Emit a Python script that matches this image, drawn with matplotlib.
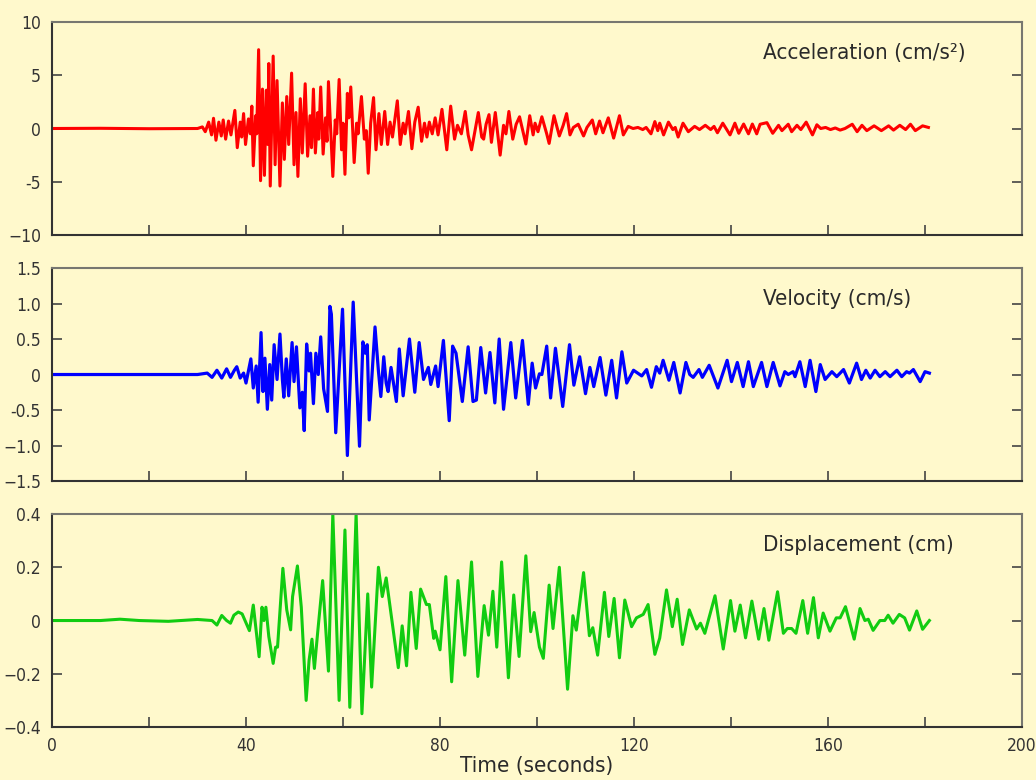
import matplotlib
matplotlib.use("Agg")
import matplotlib.pyplot as plt
import matplotlib.transforms as mtransforms

plt.rcParams['font.family'] = ['DejaVu Sans']
plt.rcParams['font.stretch'] = 'condensed'

bg = '#FFF9CC'

# acceleration (cm/s^2), peaks and troughs
acc_t = [0, 10, 20, 30, 31, 31.6, 32.3, 32.9, 33.3, 33.8, 34.4, 34.9, 35.3, 35.8, 36.4, 36.9,
         37.7, 38.2, 38.8, 39.1, 39.5, 39.9, 40.5, 40.9, 41.2, 41.5, 42.0, 42.2, 42.6, 43.0,
         43.4, 43.8, 44.2, 44.5, 44.7, 45.0, 45.4, 45.6, 46.0, 46.4, 47.0, 47.5, 47.9, 48.4,
         48.8, 49.4, 49.9, 50.3, 50.7, 51.2, 51.6, 52.2, 52.7, 53.2, 53.5, 53.9, 54.3, 54.8,
         55.0, 55.4, 55.9, 56.4, 56.7, 57.0, 57.9, 58.4, 58.7, 59.2, 59.7, 60.0, 60.4, 60.9,
         61.2, 61.6, 62.3, 62.8, 63.1, 63.8, 64.4, 64.8, 65.2, 65.7, 66.3, 66.8, 67.4, 67.9,
         68.6, 69.2, 69.7, 70.2, 71.2, 71.8, 72.4, 72.8, 73.5, 74.2, 74.8, 75.5, 76.2, 76.8,
         77.3, 77.8, 78.4, 79.0, 79.6, 80.4, 81.4, 82.2, 83.0, 83.6, 84.4, 85.2, 85.8, 86.5,
         87.9, 88.6, 89.0, 89.5, 90.1, 90.6, 91.4, 92.4, 93.1, 93.6, 94.2, 95.0, 95.7, 96.4,
         97.7, 98.5, 99.2, 99.6, 100.2, 101.0, 102.0, 102.5, 103.5, 104.6, 105.4, 106.1, 106.8,
         107.5, 108.5, 109.6, 110.3, 111.4, 112.1, 112.9, 113.6, 114.7, 115.8, 117.0, 117.8,
         118.8, 119.8, 120.8, 121.8, 122.5, 123.5, 124.3, 124.9, 125.3, 126.1, 127.1, 128.0,
         128.5, 129.1, 130.1, 131.2, 132.5, 133.5, 134.7, 135.8, 136.5, 137.2, 138.3, 139.8,
         140.8, 141.6, 142.6, 143.6, 144.4, 145.3, 146.0, 147.4, 148.6, 149.8, 150.5, 151.8,
         152.5, 153.6, 154.4, 155.5, 156.8, 157.7, 158.5, 159.5, 160.5, 161.5, 162.5, 163.5,
         165.0, 166.0, 167.0, 168.0, 169.5, 171.0, 172.5, 173.5, 174.8, 176.0, 177.0, 178.0,
         179.5, 180.7]
acc_v = [0, 0.02, -0.02, 0, 0.15, -0.3, 0.6, -0.6, 0.96, -1.1, 0.6, -0.7, 0.8, -1.0, 0.7, -0.6,
         1.7, -1.8, 0.6, -0.8, 1.4, -1.5, 0.9, -0.5, 2.1, -3.5, 1.2, -0.5, 7.4, -4.9,
         3.7, -4.4, 3.6, -1.5, 6.1, -5.4, 3.0, 6.8, -3.4, 4.5, -5.4, 2.4, -2.9, 3.0,
         -1.5, 5.2, -3.4, 1.5, -4.5, 2.8, -2.3, 4.2, -2.6, 1.2, -1.8, 3.7, -2.3, 1.5,
         -1.0, 3.9, -2.4, 1.0, -1.2, 4.4, -4.5, 0.8, -0.5, 4.6, -2.0, 0.5, -4.3, 3.3,
         1.0, 3.9, -3.2, 0.5, -0.5, 3.0, -1.0, -0.2, -4.2, 0.5, 2.9, -2.0, 1.4, -1.5,
         1.6, -1.5, 0.6, -0.8, 2.6, -1.5, 0.5, -0.5, 1.6, -1.9, 0.6, 2.0, -1.2, 0.5,
         -0.8, 0.6, -0.5, 1.0, -0.6, 1.8, -2.0, 2.1, -1.0, 0.3, -0.5, 1.6, -0.6, -2.0,
         1.5, -0.8, -1.0, 0.4, 1.3, -1.3, 1.5, -2.5, 0.3, -0.5, 1.6, -1.0, 0.4, 1.1,
         -1.45, 1.2, -0.6, 0.5, -0.3, 1.1, -0.5, -1.4, 1.2, -0.7, 0.3, 1.4, -0.6,
         0.1, 0.4, -0.7, 0.1, 0.8, -0.5, 0.7, -0.4, 1.0, -0.9, 1.2, -0.6,
         0.2, 0.0, 0.1, -0.1, 0.1, -0.5, 0.65, -0.2, 0.5, -0.6, 0.6, -0.1,
         0.1, -0.8, 0.5, -0.3, 0.2, -0.1, 0.3, -0.1, 0.2, -0.4, 0.5, -0.6,
         0.5, -0.45, 0.42, -0.5, 0.42, -0.5, 0.4, 0.55, -0.45, 0.3, -0.2, 0.4,
         -0.3, 0.3, -0.1, 0.6, -0.6, 0.35, 0.0, 0.1, -0.1, 0.05, -0.15, 0.0,
         0.4, -0.3, 0.3, -0.2, 0.25, -0.2, 0.25, -0.15, 0.3, -0.1, 0.4, -0.2,
         0.25, 0.1]

# velocity (cm/s)
vel_t = [0, 20, 30, 32, 33, 34, 35, 36, 36.8, 37.6, 38.1, 38.8, 39.5, 40.0, 41.0, 41.5, 42.1,
         42.5, 43.1, 43.5, 43.9, 44.4, 44.9, 45.3, 45.8, 46.4, 47.0, 47.5, 47.8, 48.3, 48.8,
         49.5, 49.9, 50.4, 51.1, 51.6, 52.0, 52.5, 53.0, 53.3, 53.9, 54.4, 54.9, 55.4, 56.0,
         56.8, 57.3, 57.6, 58.5, 59.9, 60.9, 62.1, 63.4, 64.1, 64.6, 65.0, 65.4, 66.6, 67.3,
         67.8, 68.4, 68.9, 69.3, 69.9, 71.0, 71.6, 72.4, 73.7, 74.8, 75.7, 76.6, 77.6, 78.1,
         79.1, 79.6, 80.7, 81.9, 82.6, 83.3, 84.6, 85.8, 86.8, 87.5, 88.4, 89.4, 90.3, 91.3,
         92.2, 93.1, 94.6, 95.6, 97.0, 98.2, 99.0, 99.7, 100.5, 101.0, 102.0, 102.8, 103.8,
         105.3, 106.7, 107.6, 108.8, 110.0, 110.9, 111.7, 113.0, 114.2, 115.4, 116.4, 117.5,
         118.5, 119.9, 121.6, 122.6, 123.6, 124.6, 125.3, 126.0, 127.2, 128.2, 129.5, 130.7,
         131.5, 132.2, 133.4, 134.1, 135.5, 137.3, 139.2, 140.1, 141.3, 142.5, 143.6, 144.6,
         146.3, 147.4, 148.7, 150.1, 151.1, 151.8, 152.8, 153.2, 154.2, 155.3, 156.3, 157.5,
         158.4, 159.4, 160.8, 161.8, 163.2, 164.4, 165.9, 166.9, 167.8, 168.7, 169.7, 170.7,
         171.8, 172.8, 174.2, 175.2, 176.2, 176.8, 177.6, 179.0, 180.0, 180.9]
vel_v = [0, 0.0, 0.0, 0.02, -0.04, 0.06, -0.05, 0.08, -0.04, 0.06, 0.11, -0.05, 0.02, -0.12, 0.22, -0.19, 0.12,
         -0.39, 0.59, -0.24, 0.23, -0.49, 0.14, -0.36, 0.42, -0.07, 0.57, -0.07, -0.32, 0.22, -0.3,
         0.45, -0.1, 0.39, -0.47, -0.25, -0.79, 0.43, 0.05, 0.3, -0.41, 0.30, 0.0, 0.53, -0.2,
         -0.52, 0.96, 0.85, -0.82, 0.92, -1.14, 1.02, -1.01, 0.46, 0.3, 0.42, -0.64, 0.67, 0.05,
         -0.31, 0.25, -0.12, -0.24, 0.1, -0.38, 0.36, -0.3, 0.50, -0.25, 0.45, -0.07, 0.1, -0.14,
         0.12, -0.17, 0.48, -0.65, 0.40, 0.3, -0.38, 0.39, -0.38, -0.36, 0.38, -0.26, 0.31, -0.40,
         0.50, -0.49, 0.45, -0.33, 0.48, -0.42, 0.16, -0.19, 0.01, 0.0, 0.40, -0.33, 0.37,
         -0.45, 0.42, -0.15, 0.25, -0.27, 0.10, -0.17, 0.24, -0.29, 0.20, -0.33, 0.32,
         -0.12, 0.06, -0.02, 0.07, -0.18, 0.11, 0.02, 0.20, -0.08, 0.17, -0.26, 0.17,
         0.0, -0.04, 0.07, -0.04, 0.13, -0.19, 0.20, -0.1, 0.17, -0.17, 0.18, -0.17,
         0.17, -0.17, 0.17, -0.16, 0.04, 0.0, 0.04, -0.03, 0.18, -0.17, 0.2, -0.24,
         0.14, -0.07, 0.04, -0.03, 0.07, -0.12, 0.16, -0.07, 0.06, -0.05, 0.06, -0.03,
         0.04, -0.03, 0.06, -0.03, 0.04, 0.02, 0.07, -0.10, 0.04, 0.02]

# displacement (cm)
dis_t = [0, 10, 14, 18, 24, 30, 33, 34.0, 35.0, 36.0, 36.8, 37.5, 38.4, 39.2, 40.7, 41.5, 42.7,
         43.3, 43.7, 44.1, 44.7, 45.6, 46.1, 46.5, 47.6, 48.4, 49.2, 49.6, 50.6, 51.4, 52.4,
         53.0, 53.6, 54.1, 54.8, 55.8, 57.0, 57.9, 59.2, 60.4, 61.4, 62.7, 63.9, 65.1, 65.9,
         67.3, 68.1, 68.9, 71.4, 72.2, 73.1, 74.0, 75.1, 76.0, 77.2, 77.8, 78.7, 79.0, 80.0,
         81.2, 82.4, 83.7, 85.1, 86.5, 87.8, 89.1, 90.0, 90.9, 91.7, 92.7, 94.1, 95.2, 96.3,
         97.7, 98.7, 99.4, 100.5, 101.3, 102.5, 103.3, 104.6, 106.3, 107.4, 108.1, 109.6,
         110.8, 111.5, 112.5, 113.9, 114.8, 115.9, 117.0, 118.1, 119.5, 120.5, 121.9, 122.9,
         124.3, 125.3, 126.7, 127.9, 128.9, 130.0, 131.4, 132.9, 133.7, 134.6, 136.7, 138.4,
         139.9, 140.8, 141.9, 143.0, 144.3, 145.7, 146.8, 147.8, 149.6, 150.8, 151.6, 152.5,
         153.4, 154.8, 155.8, 157.0, 158.0, 159.0, 160.4, 161.7, 162.5, 163.6, 165.4, 166.6,
         167.6, 168.3, 169.3, 170.7, 171.7, 172.4, 173.4, 174.7, 175.8, 176.8, 178.3, 179.5,
         180.9]
dis_v = [0, 0.0, 0.005, 0.0, -0.003, 0.004, 0.0, -0.017, 0.019, 0.0, -0.01, 0.02, 0.032, 0.025, -0.038, 0.058, -0.136,
         0.05, 0.0, 0.05, -0.06, -0.161, -0.10, -0.1, 0.196, 0.04, -0.035, 0.09, 0.205, 0.05, -0.30,
         -0.15, -0.07, -0.18, -0.04, 0.15, -0.19, 0.40, -0.30, 0.34, -0.326, 0.40, -0.35, 0.10, -0.25,
         0.20, 0.09, 0.16, -0.177, -0.02, -0.17, 0.106, -0.105, 0.118, 0.06, 0.06, -0.067, -0.04, -0.11,
         0.165, -0.23, 0.15, -0.13, 0.22, -0.21, 0.056, -0.055, 0.11, -0.10, 0.22, -0.215, 0.096, -0.135,
         0.243, -0.042, 0.03, -0.1, -0.142, 0.133, -0.03, 0.20, -0.258, 0.018, -0.036, 0.18,
         -0.057, -0.027, -0.13, 0.106, -0.06, 0.083, -0.14, 0.077, -0.023, 0.01, 0.023, 0.06,
         -0.127, -0.066, 0.115, -0.023, 0.08, -0.09, 0.04, -0.032, -0.01, -0.048, 0.093, -0.107,
         0.075, -0.04, 0.058, -0.065, 0.073, -0.07, 0.045, -0.074, 0.108, -0.048, -0.03, -0.03,
         -0.048, 0.075, -0.048, 0.086, -0.065, 0.028, -0.04, 0.01, 0.01, 0.052, -0.07, 0.045,
         0.0, 0.005, -0.037, 0.0, 0.0, 0.02, -0.01, 0.023, 0.01, -0.036, 0.036, -0.033,
         0.0]

x_ticks = [0, 20, 40, 60, 80, 100, 120, 140, 160, 180, 200]
x_labels = ['0', '', '40', '', '80', '', '120', '', '160', '', '200']

panels = [
    dict(t=acc_t, v=acc_v, color='#FF0000', lw=2.2, lim=(-10, 10),
         ticks=[-10, -5, 0, 5, 10], labels=['\u221210', '-5', '0', '5', '10'],
         title='Acceleration (cm/s\u00b2)', box=[0.0502, 0.6987, 0.9363, 0.2731]),
    dict(t=vel_t, v=vel_v, color='#0000FF', lw=2.3, lim=(-1.5, 1.5),
         ticks=[-1.5, -1.0, -0.5, 0, 0.5, 1.0, 1.5],
         labels=['\u22121.5', '\u22121.0', '-0.5', '0', '0.5', '1.0', '1.5'],
         title='Velocity (cm/s)', box=[0.0502, 0.3833, 0.9363, 0.2731]),
    dict(t=dis_t, v=dis_v, color='#11CC11', lw=2.2, lim=(-0.4, 0.4),
         ticks=[-0.4, -0.2, 0, 0.2, 0.4], labels=['\u22120.4', '\u22120.2', '0', '0.2', '0.4'],
         title='Displacement (cm)', box=[0.0502, 0.0679, 0.9363, 0.2731]),
]

fig = plt.figure(figsize=(10.36, 7.8), dpi=100, facecolor=bg)

for i, p in enumerate(panels):
    ax = fig.add_axes(p['box'], facecolor=bg)
    ax.plot(p['t'], p['v'], color=p['color'], lw=p['lw'], solid_joinstyle='round')
    ax.set_xlim(0, 200)
    ax.set_ylim(*p['lim'])
    ax.set_yticks(p['ticks'])
    ax.set_yticklabels(p['labels'])
    ax.set_xticks(x_ticks)
    if i == 2:
        ax.set_xticklabels(x_labels)
        ax.set_xlabel('Time (seconds)', fontsize=16, color='#2a2a2a', labelpad=1)
        # nudge the last label inside the figure like the original
        last = ax.get_xticklabels()[-1]
        last.set_transform(last.get_transform() +
                           mtransforms.ScaledTranslation(-8 / 100, 0, fig.dpi_scale_trans))
    else:
        ax.set_xticklabels([])
    ax.tick_params(axis='y', direction='in', length=7, width=1.2, color='#444444',
                   labelsize=12.5, labelcolor='#333333', pad=8, left=True, right=True)
    ax.tick_params(axis='x', direction='in', length=7, width=1.2, color='#444444',
                   labelsize=12.5, labelcolor='#333333', pad=7, bottom=True, top=False)
    for side in ['left', 'bottom']:
        ax.spines[side].set_color('#333333')
        ax.spines[side].set_linewidth(1.5)
    for side in ['top', 'right']:
        ax.spines[side].set_color('#777770')
        ax.spines[side].set_linewidth(1.5)
    ax.text(0.733, 0.855, p['title'], transform=ax.transAxes, fontsize=16,
            color='#2a2a2a', ha='left', va='center')

fig.savefig('out.png', dpi=100, facecolor=bg)
